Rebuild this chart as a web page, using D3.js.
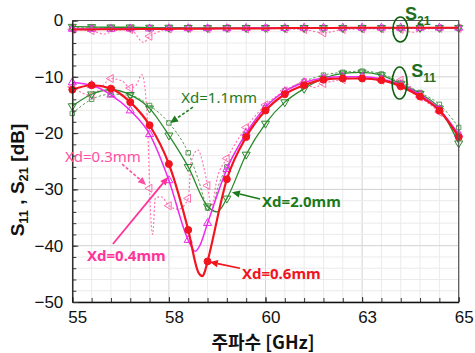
<!DOCTYPE html>
<html>
<head>
<meta charset="utf-8">
<script src="https://cdn.jsdelivr.net/npm/d3@7"></script>
<style>
  body { margin: 0; background: #fff; }
  svg text { font-family: "Liberation Sans", Arial, sans-serif; }
</style>
</head>
<body>
<div id="chart"></div>
<script>
// axis ticks (labels are rounded as in the original plot)
const freqTicks = [55, 57.5, 60, 62.5, 65];
const freqTickLabels = ['55', '58', '60', '63', '65'];
const dbTicks = [0, -10, -20, -30, -40, -50];

// S11, Xd=0.6mm (red)
const s11Xd06Freq = [55, 55.5, 56, 56.5, 57, 57.5, 58, 58.26, 58.37, 58.43, 58.5, 59, 59.5, 60, 60.5, 61, 61.5, 62, 62.5, 63, 63.5, 64, 64.5, 65];
const s11Xd06 = [-12.3, -11.5, -12.1, -14.5, -18.6, -25.5, -37.2, -44.7, -45.4, -44.6, -42.8, -28.2, -20.7, -16, -13.1, -11.5, -10.5, -10.3, -10.3, -10.6, -11.7, -13.5, -16, -20.7];
// S11, Xd=0.4mm (magenta)
const s11Xd04Freq = [55, 55.5, 56, 56.5, 57, 57.5, 58, 58.18, 58.3, 58.5, 59, 59.5, 60, 60.5, 61, 61.5, 62, 62.5, 63, 63.5, 64, 64.5, 65];
const s11Xd04 = [-11, -11.5, -13.2, -16, -20.2, -28.4, -39, -41, -40, -36, -26.4, -20, -15.4, -12.6, -11, -10.2, -10, -10, -10.4, -11.4, -13.2, -15.8, -20.2];
// S11, Xd=2.0mm (green solid)
const s11Xd20Freq = [55, 55.5, 56, 56.5, 57, 57.5, 58, 58.5, 58.75, 59, 59.5, 60, 60.5, 61, 61.5, 62, 62.5, 63, 63.5, 64, 64.5, 65];
const s11Xd20 = [-15.2, -13.1, -12.3, -13.2, -15.6, -20.4, -26, -33, -34, -31.6, -23.8, -18.3, -14.5, -12.1, -10.3, -9.4, -9.2, -9.7, -11.3, -13, -15.6, -21.8];
// S11, Xd=1.1mm (green dashed)
const s11Xd11Freq = [55, 55.5, 56, 56.5, 57, 57.5, 58, 58.25, 58.5, 58.6, 58.75, 59, 59.5, 60, 60.5, 61, 61.5, 62, 62.5, 63, 63.5, 64, 64.5, 65];
const s11Xd11 = [-16.5, -14, -13.1, -13.3, -15.1, -18.2, -23.5, -28, -33.3, -34, -30, -26, -20.3, -15.5, -12.5, -10.8, -9.7, -9.2, -9, -9.5, -11, -12.8, -14.9, -19];
// S11, Xd=0.3mm (pink dotted)
const s11Xd03Freq = [55, 55.5, 55.8, 56, 56.3, 56.5, 56.65, 56.8, 56.92, 56.98, 57, 57.08, 57.15, 57.3, 57.5, 57.75, 58, 58.08, 58.25, 58.4, 58.5, 58.6, 58.75, 59, 59.5, 60, 60.5, 61, 61.25, 61.5, 62, 62.5, 63, 63.5, 64, 64.5, 65];
const s11Xd03 = [-11.8, -13.3, -11.5, -10.3, -10.8, -12, -11.5, -9.6, -15, -25, -29.8, -38, -31.5, -31.3, -32.9, -33.5, -31.6, -25, -23, -26, -29.3, -33, -28, -24.5, -19, -15, -12.5, -11, -11.9, -11.2, -10.5, -10.2, -10.6, -10.6, -13.6, -16.3, -20.5];

// S21
const s21Freq = [55, 55.5, 56, 56.5, 57, 57.5, 58, 58.5, 59, 59.5, 60, 60.5, 61, 61.5, 62, 62.5, 63, 63.5, 64, 64.5, 65];
const s21Xd06 = [-1.6, -1.6, -1.55, -1.55, -1.5, -1.5, -1.45, -1.45, -1.4, -1.4, -1.4, -1.35, -1.35, -1.35, -1.3, -1.3, -1.3, -1.3, -1.3, -1.3, -1.3];
const s21Xd04 = [-1.5, -1.5, -1.5, -1.45, -1.45, -1.4, -1.4, -1.4, -1.4, -1.35, -1.35, -1.35, -1.3, -1.3, -1.3, -1.3, -1.3, -1.3, -1.3, -1.3, -1.3];
const s21Xd20 = [-1.1, -1.15, -1.2, -1.2, -1.25, -1.25, -1.3, -1.3, -1.3, -1.3, -1.3, -1.3, -1.3, -1.3, -1.3, -1.3, -1.3, -1.3, -1.3, -1.3, -1.3];
const s21Xd11 = [-1.3, -1.3, -1.3, -1.35, -1.35, -1.35, -1.35, -1.4, -1.4, -1.4, -1.4, -1.4, -1.4, -1.4, -1.4, -1.4, -1.4, -1.4, -1.4, -1.4, -1.4];
const s21Xd03Freq = [55, 55.5, 55.8, 56.2, 56.5, 56.85, 57, 57.2, 57.5, 58, 58.5, 59, 59.5, 60, 60.5, 61, 61.5, 62, 62.5, 63, 63.5, 63.8, 64.2, 64.5, 65];
const s21Xd03 = [-1.6, -1.8, -2.4, -1.7, -1.6, -3.9, -2.8, -2.1, -1.5, -1.4, -1.5, -1.4, -1.5, -1.4, -1.5, -1.6, -2.2, -1.6, -1.5, -1.5, -1.6, -2.1, -1.5, -1.4, -1.4];

const RED = '#f2141e', MAGENTA = '#ee2aee', GREEN = '#2a8a2a', GREEN_DASH = '#5e9a5e', PINK = '#ff6eb0';

const series = [
  { f: s11Xd11Freq, v: s11Xd11, color: GREEN_DASH, width: 1, dash: '2.5,2', marker: 'square' },
  { f: s21Freq, v: s21Xd11, color: GREEN_DASH, width: 1, dash: '2.5,2', marker: 'square' },
  { f: s11Xd03Freq, v: s11Xd03, color: PINK, width: 1.1, dash: '2,2', marker: 'triLeft' },
  { f: s21Xd03Freq, v: s21Xd03, color: PINK, width: 1.1, dash: '2,2', marker: 'triLeft' },
  { f: s11Xd20Freq, v: s11Xd20, color: GREEN, width: 1.3, dash: null, marker: 'triDown' },
  { f: s21Freq, v: s21Xd20, color: GREEN, width: 1.3, dash: null, marker: 'triDown' },
  { f: s11Xd04Freq, v: s11Xd04, color: MAGENTA, width: 1.5, dash: null, marker: 'triUp' },
  { f: s21Freq, v: s21Xd04, color: MAGENTA, width: 1.5, dash: null, marker: 'triUp' },
  { f: s11Xd06Freq, v: s11Xd06, color: RED, width: 2.2, dash: null, marker: 'circle' },
  { f: s21Freq, v: s21Xd06, color: RED, width: 2, dash: null, marker: null }
];

const width = 475, height = 353;
const plot = { left: 72.3, right: 458.7, top: 20.5, bottom: 302 };

const x = d3.scaleLinear().domain([55, 65]).range([plot.left, plot.right]);
const y = d3.scaleLinear().domain([-50, 0]).range([plot.bottom, plot.top]);

const svg = d3.select('#chart').append('svg')
  .attr('width', width)
  .attr('height', height);

// grid
const grid = svg.append('g');
const minorF = d3.range(55, 65.001, 0.5);
const minorDb = d3.range(-50, 0.001, 2);
grid.selectAll('line.vf').data(minorF).join('line')
  .attr('x1', d => x(d)).attr('x2', d => x(d))
  .attr('y1', plot.top).attr('y2', plot.bottom)
  .attr('stroke', d => freqTicks.includes(d) ? '#d2d2d2' : '#ebebeb').attr('stroke-width', 1);
grid.selectAll('line.hd').data(minorDb).join('line')
  .attr('y1', d => y(d)).attr('y2', d => y(d))
  .attr('x1', plot.left).attr('x2', plot.right)
  .attr('stroke', d => d % 10 === 0 ? '#d2d2d2' : '#ebebeb').attr('stroke-width', 1);

// curves
const line = d3.line().x(d => x(d[0])).y(d => y(d[1])).curve(d3.curveMonotoneX);
const sym = {
  circle: d3.symbol().type(d3.symbolCircle).size(38),
  triUp: d3.symbol().type(d3.symbolTriangle).size(28),
  triDown: d3.symbol().type(d3.symbolTriangle).size(28),
  triLeft: d3.symbol().type(d3.symbolTriangle).size(28),
  square: d3.symbol().type(d3.symbolSquare).size(20)
};
const rot = { circle: 0, triUp: 0, triDown: 180, triLeft: -90, square: 0 };

series.forEach(s => {
  const pts = s.f.map((f, i) => [f, s.v[i]]);
  svg.append('path')
    .datum(pts)
    .attr('d', line)
    .attr('fill', 'none')
    .attr('stroke', s.color)
    .attr('stroke-width', s.width)
    .attr('stroke-dasharray', s.dash);
  if (!s.marker) return;
  const marks = pts.filter(p => Math.abs(p[0] * 2 - Math.round(p[0] * 2)) < 1e-6);
  svg.append('g').selectAll('path').data(marks).join('path')
    .attr('d', sym[s.marker])
    .attr('transform', d => `translate(${x(d[0])},${y(d[1])}) rotate(${rot[s.marker]})`)
    .attr('fill', s.marker === 'circle' ? s.color : 'none')
    .attr('stroke', s.color)
    .attr('stroke-width', 1);
});

// frame (top / right)
svg.append('path')
  .attr('d', `M${plot.left},${plot.top}H${plot.right}V${plot.bottom}`)
  .attr('fill', 'none').attr('stroke', '#555').attr('stroke-width', 1.2);

// axes, ticks pointing inward
const xAxis = svg.append('g').attr('transform', `translate(0,${plot.bottom})`)
  .call(d3.axisBottom(x).tickValues(freqTicks).tickFormat((d, i) => freqTickLabels[i])
    .tickSizeInner(-5).tickSizeOuter(0).tickPadding(9));
svg.append('g').attr('transform', `translate(0,${plot.bottom})`)
  .call(d3.axisBottom(x).tickValues(minorF).tickFormat('').tickSizeInner(-4).tickSizeOuter(0))
  .select('.domain').remove();
const yAxis = svg.append('g').attr('transform', `translate(${plot.left},0)`)
  .call(d3.axisLeft(y).tickValues(dbTicks).tickFormat(d3.format('d'))
    .tickSizeInner(-6).tickSizeOuter(0).tickPadding(9));
svg.append('g').attr('transform', `translate(${plot.left},0)`)
  .call(d3.axisLeft(y).tickValues(minorDb).tickFormat('').tickSizeInner(-4).tickSizeOuter(0))
  .select('.domain').remove();

svg.selectAll('.domain').attr('stroke', '#111').attr('stroke-width', 1.3);
svg.selectAll('.tick line').attr('stroke', '#333');
xAxis.selectAll('.tick text').attr('dx', 5);
svg.selectAll('.tick text')
  .attr('font-family', '"Liberation Sans", Arial, sans-serif')
  .attr('font-size', 17).attr('fill', '#111');

// axis titles
svg.append('text')
  .attr('x', 263).attr('y', 349)
  .attr('text-anchor', 'middle')
  .style('font-family', '"Noto Sans CJK KR", "Noto Sans", sans-serif')
  .style('font-weight', 'bold').style('font-size', '18px').attr('fill', '#111')
  .text('주파수 [GHz]');

const yt = svg.append('text')
  .attr('transform', 'translate(24,180) rotate(-90)')
  .attr('text-anchor', 'middle')
  .style('font-weight', 'bold').style('font-size', '19px').attr('fill', '#111');
yt.append('tspan').text('S');
yt.append('tspan').attr('dy', 4).style('font-size', '13px').text('11');
yt.append('tspan').attr('dy', -4).text(' , S');
yt.append('tspan').attr('dy', 4).style('font-size', '13px').text('21');
yt.append('tspan').attr('dy', -4).text('  [dB]');

// annotations
const annotations = [
  { text: 'Xd=1.1mm', at: [57.82, -14.65], color: '#1f7a1f', bold: false, from: [58.12, -15.4], to: [57.53, -18.2], dash: '3,2', w: 1.6 },
  { text: 'Xd=0.3mm', at: [54.81, -25.13], color: '#ff4fa3', bold: false, from: [56.29, -25.5], to: [56.91, -29.2], dash: '3,2', w: 1.6 },
  { text: 'Xd=0.4mm', at: [55.38, -42.72], color: '#ff3399', bold: true, from: [56.05, -39.7], to: [57.48, -27.8], dash: null, w: 1.8 },
  { text: 'Xd=2.0mm', at: [59.91, -33.13], color: '#1b7a1b', bold: true, from: [59.86, -31.7], to: [59.13, -30.5], dash: null, w: 1.6 },
  { text: 'Xd=0.6mm', at: [59.39, -45.92], color: '#f2141e', bold: true, from: [59.34, -44.0], to: [58.56, -42.9], dash: null, w: 1.6 }
];

annotations.forEach(a => {
  svg.append('text')
    .attr('x', x(a.at[0])).attr('y', y(a.at[1]))
    .style('font-family', '"Noto Sans", "Open Sans", sans-serif')
    .style('font-size', '15px')
    .style('font-weight', a.bold ? 'bold' : 'normal')
    .attr('fill', a.color)
    .text(a.text);
  const x1 = x(a.from[0]), y1 = y(a.from[1]), x2 = x(a.to[0]), y2 = y(a.to[1]);
  const ang = Math.atan2(y2 - y1, x2 - x1);
  const len = 8, hw = 3.6;
  const bx = x2 - len * Math.cos(ang), by = y2 - len * Math.sin(ang);
  svg.append('line')
    .attr('x1', x1).attr('y1', y1).attr('x2', bx).attr('y2', by)
    .attr('stroke', a.color).attr('stroke-width', a.w)
    .attr('stroke-dasharray', a.dash);
  svg.append('path')
    .attr('d', `M${x2},${y2}L${bx + hw * Math.sin(ang)},${by - hw * Math.cos(ang)}L${bx - hw * Math.sin(ang)},${by + hw * Math.cos(ang)}Z`)
    .attr('fill', a.color);
});

// S21 / S11 callouts
const callouts = [
  { main: 'S', sub: '21', at: [63.61, 0.1], ring: [63.49, -1.6], rx: 7.5, ry: 12.5 },
  { main: 'S', sub: '11', at: [63.77, -10.04], ring: [63.47, -11.1], rx: 7.5, ry: 16 }
];
callouts.forEach(c => {
  svg.append('ellipse')
    .attr('cx', x(c.ring[0])).attr('cy', y(c.ring[1]))
    .attr('rx', c.rx).attr('ry', c.ry)
    .attr('fill', 'none').attr('stroke', '#0d5e0d').attr('stroke-width', 1.6);
  const t = svg.append('text')
    .attr('x', x(c.at[0])).attr('y', y(c.at[1]))
    .style('font-weight', 'bold').style('font-size', '18px').attr('fill', '#1e6e1e');
  t.append('tspan').text(c.main);
  t.append('tspan').attr('dy', 5).style('font-size', '12px').text(c.sub);
});
</script>
</body>
</html>
